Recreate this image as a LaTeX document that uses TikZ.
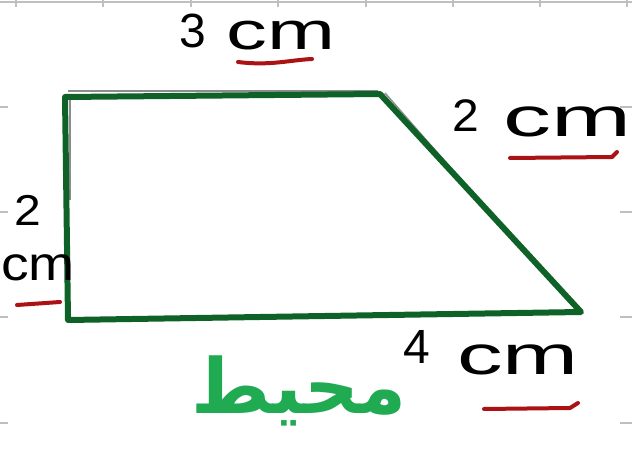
\documentclass[tikz,border=0pt]{standalone}
\usepackage{fontspec}
\setmainfont{Liberation Sans}
\newfontfamily\arabicfont[Script=Arabic]{DejaVu Sans}
\TeXXeTstate=1
\definecolor{shapegreen}{RGB}{14,98,40}
\definecolor{wordgreen}{RGB}{32,170,82}
\definecolor{ulred}{RGB}{170,18,20}
\tikzset{
  pagegrid/.style={draw=black!25, line width=1.2pt},
  trapline/.style={draw=shapegreen, line width=6pt, line join=round, line cap=round},
  underline/.style={draw=black!45, line width=1.5pt},
  hand/.style={inner sep=0pt, font=\fontsize{48}{52}\selectfont, text=black},
  redul/.style={draw=ulred, line width=4pt, line cap=round},
}
\begin{document}
\begin{tikzpicture}[x=1pt,y=-1pt]
\useasboundingbox (0,0) rectangle (632,449);
% faint grid of the page
\draw[pagegrid] (0,2) -- (632,2);
\foreach \x in {16,103,191,278,366,453,540,627} \draw[pagegrid] (\x,0) -- (\x,7);
\foreach \y in {107,212,317,423} {
  \draw[pagegrid] (0,\y) -- (8,\y);
  \draw[pagegrid] (620,\y) -- (632,\y);
}
% corners
\coordinate (TL) at (65,97);
\coordinate (TR) at (380,94);
\coordinate (BR) at (581,312);
\coordinate (BL) at (68,320);
% underlying thin lines
\draw[underline] (68,91) -- (378,91);
\draw[underline] (70,100) -- (70,200);
\draw[underline] (385,93) -- (470,190);
% trapezoid
\draw[trapline] (TL) -- (TR) -- (BR) -- (BL) -- cycle;
% labels
\node[hand] (n3) at (193,31) {3};
\node[hand] (c3) at (281,36) {\scalebox{1.7}[1.1]{cm}};
\node[hand] (n2r) at (466,116) {\scalebox{1}[0.95]{2}};
\node[hand] (c2r) at (567,122) {\scalebox{2}[1.15]{cm}};
\node[hand] (n2l) at (28,210) {\scalebox{1}[0.9]{2}};
\node[hand] (c2l) at (38,268) {\scalebox{1.15}[1]{cm}};
\node[hand] (n4) at (417,347) {4};
\node[hand] (c4) at (518,360) {\scalebox{1.9}[1.15]{cm}};
% red underlines
\draw[redul] (238,62) .. controls (270,66) and (290,60) .. (312,59);
\draw[redul] (510,158) -- (612,157) -- (617,152);
\draw[redul] (17,305) -- (60,302);
\draw[redul] (484,409) -- (570,408) -- (578,403);
% Arabic word
\node[inner sep=0pt, text=wordgreen, font=\fontsize{76}{80}\selectfont] (w) at (299,391) {\arabicfont\bfseries\beginR محيط\endR};
\end{tikzpicture}
\end{document}
